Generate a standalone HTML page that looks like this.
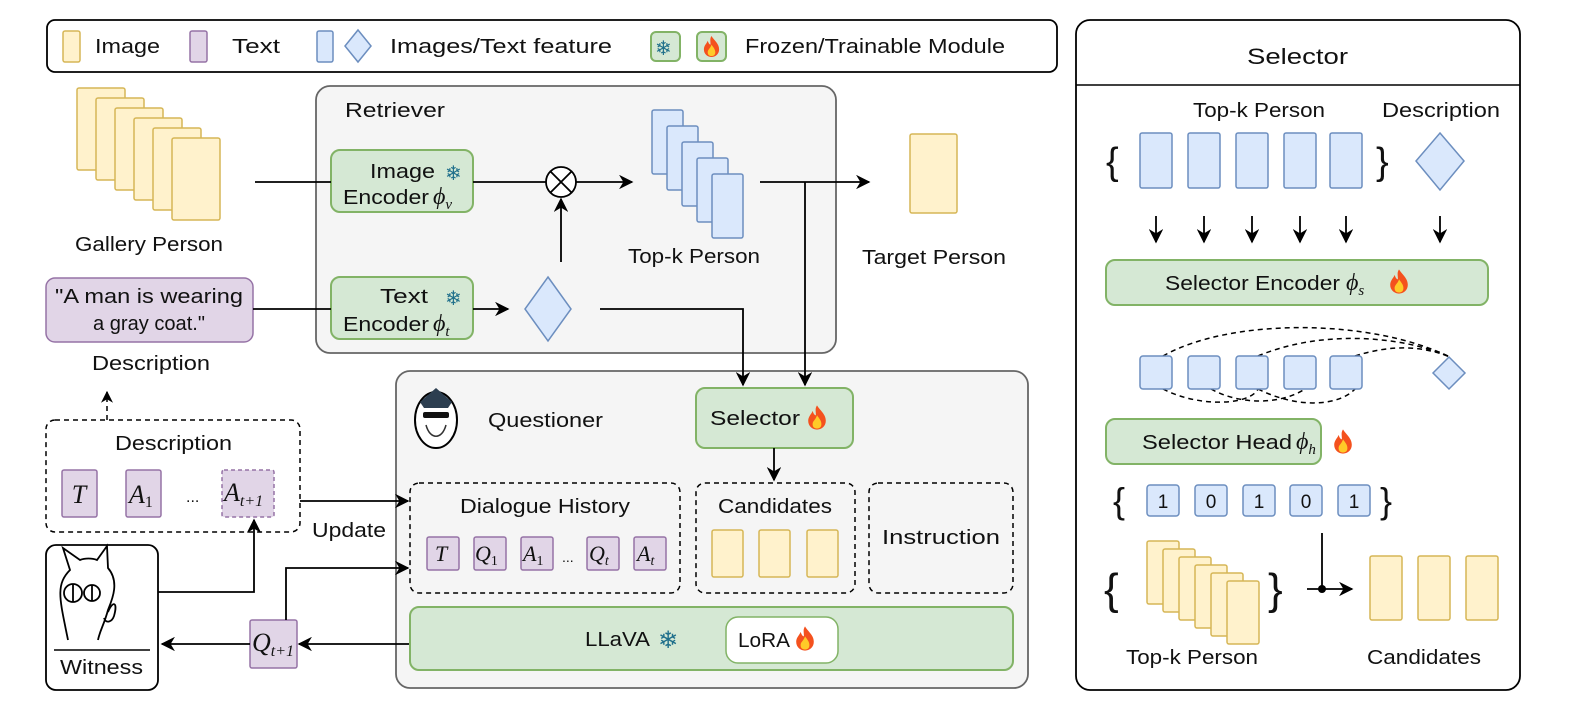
<!DOCTYPE html>
<html><head><meta charset="utf-8"><style>
html,body{margin:0;padding:0;background:#fff}
svg{display:block}
text{font-family:"Liberation Sans",sans-serif;fill:#111}
.m{font-family:"Liberation Serif",serif;font-style:italic}
.y{fill:#fff2cc;stroke:#d6b656;stroke-width:1.5}
.p{fill:#e1d5e7;stroke:#9673a6;stroke-width:1.5}
.b{fill:#dae8fc;stroke:#6c8ebf;stroke-width:1.5}
.g{fill:#d5e8d4;stroke:#82b366;stroke-width:2}
.l{stroke:#000;stroke-width:1.8;fill:none}
.d{stroke:#000;stroke-width:1.5;fill:none;stroke-dasharray:5 4}
.sn{fill:#1f6f8b;font-family:"DejaVu Sans",sans-serif}
</style></head><body>
<svg width="1578" height="716" viewBox="0 0 1578 716" xmlns="http://www.w3.org/2000/svg" font-size="20">
<defs>
<marker id="a" viewBox="0 0 10 10" refX="9" refY="5" markerWidth="8" markerHeight="8" orient="auto-start-reverse"><path d="M0,0 L10,5 L0,10 L3,5z" fill="#000"/></marker>
<symbol id="f" viewBox="0 0 20 24"><path d="M10,1 C13,6 18,9 18,15 C18,20 14,23 10,23 C6,23 2,20 2,15 C2,11 5,9 6,6 C7,9 8,10 9,10 C9,6 8,4 10,1z" fill="#f4511e"/><path d="M10,10 C12,13 14,15 14,18 C14,21 12,22 10,22 C8,22 6,21 6,18 C6,15 9,14 10,10z" fill="#ffca28"/></symbol>
</defs>
<!-- legend -->
<rect x="47" y="20" width="1010" height="52" rx="8" fill="#fff" stroke="#000" stroke-width="1.8"/>
<rect class="y" x="63" y="31" width="17" height="31" rx="2"/><text x="95" y="53" textLength="65" lengthAdjust="spacingAndGlyphs">Image</text>
<rect class="p" x="190" y="31" width="17" height="31" rx="2"/><text x="232" y="53" textLength="48" lengthAdjust="spacingAndGlyphs">Text</text>
<rect class="b" x="317" y="31" width="16" height="31" rx="2"/><path class="b" d="M358,30 L371,46 L358,62 L345,46z"/><text x="390" y="53" textLength="222" lengthAdjust="spacingAndGlyphs">Images/Text feature</text>
<rect class="g" x="651" y="32" width="29" height="29" rx="5"/><text class="sn" x="655" y="55" font-size="20">❄</text>
<rect class="g" x="697" y="32" width="29" height="29" rx="5"/><use href="#f" x="702" y="35" width="19" height="23"/>
<text x="745" y="53" textLength="260" lengthAdjust="spacingAndGlyphs">Frozen/Trainable Module</text>

<!-- selector panel -->
<rect x="1076" y="20" width="444" height="670" rx="14" fill="#fff" stroke="#000" stroke-width="1.8"/>
<line x1="1076" y1="85" x2="1520" y2="85" stroke="#000" stroke-width="1.5"/>
<text x="1247" y="64" font-size="22" textLength="101" lengthAdjust="spacingAndGlyphs">Selector</text>
<text x="1193" y="117" textLength="132" lengthAdjust="spacingAndGlyphs">Top-k Person</text>
<text x="1382" y="117" textLength="118" lengthAdjust="spacingAndGlyphs">Description</text>
<text x="1106" y="174" font-size="38" font-family="Liberation Serif">{</text><text x="1376" y="174" font-size="38" font-family="Liberation Serif">}</text>
<rect class="b" x="1140" y="133" width="32" height="55" rx="2"/><rect class="b" x="1188" y="133" width="32" height="55" rx="2"/><rect class="b" x="1236" y="133" width="32" height="55" rx="2"/><rect class="b" x="1284" y="133" width="32" height="55" rx="2"/><rect class="b" x="1330" y="133" width="32" height="55" rx="2"/>
<path class="b" d="M1440,133 L1464,161 L1440,190 L1416,161z"/>
<g class="l" marker-end="url(#a)"><line x1="1156" y1="216" x2="1156" y2="242"/><line x1="1204" y1="216" x2="1204" y2="242"/><line x1="1252" y1="216" x2="1252" y2="242"/><line x1="1300" y1="216" x2="1300" y2="242"/><line x1="1346" y1="216" x2="1346" y2="242"/><line x1="1440" y1="216" x2="1440" y2="242"/></g>
<rect class="g" x="1106" y="260" width="382" height="45" rx="9"/>
<text x="1165" y="290" textLength="175" lengthAdjust="spacingAndGlyphs">Selector Encoder</text>
<text class="m" x="1346" y="290" font-size="24">ϕ<tspan font-size="15" dy="5">s</tspan></text>
<use href="#f" x="1388" y="268" width="22" height="27"/>
<path class="d" d="M1163,356 C1230,318 1370,318 1450,357"/><path class="d" d="M1258,356 C1320,330 1400,335 1450,357"/><path class="d" d="M1355,356 C1390,345 1420,345 1450,357"/>
<path class="d" d="M1163,389 C1200,408 1250,405 1258,389"/><path class="d" d="M1211,389 C1240,405 1280,405 1305,389"/><path class="d" d="M1258,389 C1300,410 1340,405 1355,389"/>
<rect class="b" x="1140" y="356" width="32" height="33" rx="3"/><rect class="b" x="1188" y="356" width="32" height="33" rx="3"/><rect class="b" x="1236" y="356" width="32" height="33" rx="3"/><rect class="b" x="1284" y="356" width="32" height="33" rx="3"/><rect class="b" x="1330" y="356" width="32" height="33" rx="3"/>
<path class="b" d="M1449,357 L1465,373 L1449,389 L1433,373z"/>
<rect class="g" x="1106" y="419" width="215" height="45" rx="9"/>
<text x="1142" y="449" textLength="150" lengthAdjust="spacingAndGlyphs">Selector Head</text>
<text class="m" x="1296" y="449" font-size="24">ϕ<tspan font-size="15" dy="5">h</tspan></text>
<use href="#f" x="1332" y="428" width="22" height="27"/>
<text x="1113" y="513" font-size="36" font-family="Liberation Serif">{</text><text x="1380" y="513" font-size="36" font-family="Liberation Serif">}</text>
<g font-size="19" text-anchor="middle"><rect class="b" x="1147" y="485" width="32" height="31" rx="3"/><text x="1163" y="508">1</text><rect class="b" x="1195" y="485" width="32" height="31" rx="3"/><text x="1211" y="508">0</text><rect class="b" x="1243" y="485" width="32" height="31" rx="3"/><text x="1259" y="508">1</text><rect class="b" x="1290" y="485" width="32" height="31" rx="3"/><text x="1306" y="508">0</text><rect class="b" x="1338" y="485" width="32" height="31" rx="3"/><text x="1354" y="508">1</text></g>
<text x="1104" y="604" font-size="44" font-family="Liberation Serif">{</text><text x="1268" y="604" font-size="44" font-family="Liberation Serif">}</text>
<rect class="y" x="1147" y="541" width="32" height="63" rx="2"/><rect class="y" x="1163" y="549" width="32" height="63" rx="2"/><rect class="y" x="1179" y="557" width="32" height="63" rx="2"/><rect class="y" x="1195" y="565" width="32" height="63" rx="2"/><rect class="y" x="1211" y="573" width="32" height="63" rx="2"/><rect class="y" x="1227" y="581" width="32" height="63" rx="2"/>
<line class="l" x1="1322" y1="533" x2="1322" y2="589"/><line class="l" x1="1307" y1="589" x2="1352" y2="589" marker-end="url(#a)"/><circle cx="1322" cy="589" r="4" fill="#000"/>
<rect class="y" x="1370" y="556" width="32" height="64" rx="2"/><rect class="y" x="1418" y="556" width="32" height="64" rx="2"/><rect class="y" x="1466" y="556" width="32" height="64" rx="2"/>
<text x="1126" y="664" textLength="132" lengthAdjust="spacingAndGlyphs">Top-k Person</text><text x="1367" y="664" textLength="114" lengthAdjust="spacingAndGlyphs">Candidates</text>

<!-- gallery -->
<rect class="y" x="77" y="88" width="48" height="82" rx="2"/><rect class="y" x="96" y="98" width="48" height="82" rx="2"/><rect class="y" x="115" y="108" width="48" height="82" rx="2"/><rect class="y" x="134" y="118" width="48" height="82" rx="2"/><rect class="y" x="153" y="128" width="48" height="82" rx="2"/><rect class="y" x="172" y="138" width="48" height="82" rx="2"/>
<text x="75" y="251" textLength="148" lengthAdjust="spacingAndGlyphs">Gallery Person</text>

<!-- containers first -->
<rect x="316" y="86" width="520" height="267" rx="14" fill="#f5f5f5" stroke="#666" stroke-width="1.8"/>
<rect x="396" y="371" width="632" height="317" rx="14" fill="#f5f5f5" stroke="#666" stroke-width="1.8"/>

<!-- retriever -->
<text x="345" y="117" textLength="100" lengthAdjust="spacingAndGlyphs">Retriever</text>
<rect class="g" x="331" y="150" width="142" height="62" rx="9"/>
<text x="370" y="178" textLength="65" lengthAdjust="spacingAndGlyphs">Image</text><text class="sn" x="445" y="180" font-size="20">❄</text>
<text x="343" y="204" textLength="86" lengthAdjust="spacingAndGlyphs">Encoder</text><text class="m" x="433" y="204" font-size="24">ϕ<tspan font-size="15" dy="5">v</tspan></text>
<rect class="g" x="331" y="277" width="142" height="62" rx="9"/>
<text x="380" y="303" textLength="48" lengthAdjust="spacingAndGlyphs">Text</text><text class="sn" x="445" y="305" font-size="20">❄</text>
<text x="343" y="331" textLength="86" lengthAdjust="spacingAndGlyphs">Encoder</text><text class="m" x="433" y="331" font-size="24">ϕ<tspan font-size="15" dy="5">t</tspan></text>
<line class="l" x1="255" y1="182" x2="331" y2="182"/>
<line class="l" x1="473" y1="182" x2="546" y2="182"/>
<circle cx="561" cy="182" r="15" fill="#fff" stroke="#000" stroke-width="1.8"/><path class="l" d="M550,171 L572,193 M572,171 L550,193"/>
<line class="l" x1="576" y1="182" x2="632" y2="182" marker-end="url(#a)"/>
<line class="l" x1="561" y1="262" x2="561" y2="199" marker-end="url(#a)"/>
<line class="l" x1="473" y1="309" x2="508" y2="309" marker-end="url(#a)"/>
<path class="b" d="M548,277 L571,309 L548,341 L525,309z"/>
<rect class="b" x="652" y="110" width="31" height="64" rx="2"/><rect class="b" x="667" y="126" width="31" height="64" rx="2"/><rect class="b" x="682" y="142" width="31" height="64" rx="2"/><rect class="b" x="697" y="158" width="31" height="64" rx="2"/><rect class="b" x="712" y="174" width="31" height="64" rx="2"/>
<text x="628" y="263" textLength="132" lengthAdjust="spacingAndGlyphs">Top-k Person</text>
<line class="l" x1="760" y1="182" x2="869" y2="182" marker-end="url(#a)"/>
<rect class="y" x="910" y="134" width="47" height="79" rx="2"/>
<text x="862" y="264" textLength="144" lengthAdjust="spacingAndGlyphs">Target Person</text>
<path class="l" d="M805,182 L805,385" marker-end="url(#a)"/>
<path class="l" d="M600,309 L743,309 L743,385" marker-end="url(#a)"/>

<!-- description -->
<rect class="p" x="46" y="278" width="207" height="64" rx="9"/>
<text x="55" y="303" textLength="188" lengthAdjust="spacingAndGlyphs">"A man is wearing</text><text x="93" y="330" textLength="112" lengthAdjust="spacingAndGlyphs">a gray coat."</text>
<line class="l" x1="253" y1="309" x2="331" y2="309"/>
<text x="92" y="370" textLength="118" lengthAdjust="spacingAndGlyphs">Description</text>
<line class="d" x1="107" y1="420" x2="107" y2="392" marker-end="url(#a)"/>
<rect class="d" x="46" y="420" width="254" height="112" rx="9"/>
<text x="115" y="450" textLength="117" lengthAdjust="spacingAndGlyphs">Description</text>
<rect class="p" x="62" y="470" width="35" height="47" rx="2"/><text class="m" x="79" y="503" font-size="26" text-anchor="middle">T</text>
<rect class="p" x="126" y="470" width="35" height="47" rx="2"/><text class="m" x="129" y="503" font-size="26">A<tspan font-size="16" font-style="normal" dy="4">1</tspan></text>
<text x="186" y="502" font-size="16">...</text>
<rect class="p" x="222" y="470" width="52" height="47" rx="2" stroke-dasharray="4 3"/><text class="m" x="224" y="501" font-size="26">A<tspan font-size="16" dy="5">t+1</tspan></text>
<line class="l" x1="300" y1="501" x2="408" y2="501" marker-end="url(#a)"/>
<text x="312" y="537" textLength="74" lengthAdjust="spacingAndGlyphs">Update</text>

<!-- witness -->
<rect x="46" y="545" width="112" height="145" rx="10" fill="#fff" stroke="#000" stroke-width="1.8"/>
<g class="l" stroke-width="1.3"><path d="M68,640 C60,600 55,585 70,570 L63,548 L80,560 C85,558 92,558 97,560 L107,546 L108,568 C120,582 112,600 108,610 C104,625 100,630 98,640"/><circle cx="73" cy="593" r="9"/><circle cx="92" cy="593" r="8"/><line x1="73" y1="584" x2="73" y2="602"/><line x1="92" y1="585" x2="92" y2="601"/><path d="M108,612 C113,600 118,602 114,616 C112,622 106,624 104,618"/></g>
<line x1="54" y1="650" x2="150" y2="650" stroke="#000" stroke-width="1.5"/>
<text x="60" y="674" textLength="83" lengthAdjust="spacingAndGlyphs">Witness</text>
<path class="l" d="M158,592 L254,592 L254,520" marker-end="url(#a)"/>
<rect class="p" x="250" y="620" width="47" height="48" rx="2"/><text class="m" x="252" y="651" font-size="26">Q<tspan font-size="16" dy="5">t+1</tspan></text>
<line class="l" x1="410" y1="644" x2="299" y2="644" marker-end="url(#a)"/>
<line class="l" x1="250" y1="644" x2="162" y2="644" marker-end="url(#a)"/>
<path class="l" d="M286,620 L286,568 L408,568" marker-end="url(#a)"/>

<!-- questioner -->
<ellipse cx="436" cy="420" rx="21" ry="28" fill="#fff" stroke="#000" stroke-width="2"/>
<path d="M420,402 L436,388 L452,402 L448,408 L424,408z" fill="#2c3e50"/><rect x="423" y="412" width="26" height="6" rx="2" fill="#111"/>
<path d="M426,425 C430,440 442,440 446,425" fill="none" stroke="#333" stroke-width="1.5"/>
<text x="488" y="427" textLength="115" lengthAdjust="spacingAndGlyphs">Questioner</text>
<rect class="g" x="696" y="388" width="157" height="60" rx="9"/>
<text x="710" y="425" textLength="90" lengthAdjust="spacingAndGlyphs">Selector</text><use href="#f" x="806" y="404" width="22" height="27"/>
<line class="l" x1="774" y1="448" x2="774" y2="480" marker-end="url(#a)"/>
<rect class="d" x="410" y="483" width="270" height="110" rx="9"/>
<text x="460" y="513" textLength="170" lengthAdjust="spacingAndGlyphs">Dialogue History</text>
<g font-size="22"><rect class="p" x="427" y="537" width="32" height="33" rx="2"/><text class="m" x="435" y="561">T</text>
<rect class="p" x="474" y="537" width="32" height="33" rx="2"/><text class="m" x="475" y="561">Q<tspan font-size="14" font-style="normal" dy="4">1</tspan></text>
<rect class="p" x="521" y="537" width="32" height="33" rx="2"/><text class="m" x="523" y="561">A<tspan font-size="14" font-style="normal" dy="4">1</tspan></text>
<text x="562" y="562" font-size="14">...</text>
<rect class="p" x="587" y="537" width="32" height="33" rx="2"/><text class="m" x="589" y="561">Q<tspan font-size="14" dy="4">t</tspan></text>
<rect class="p" x="634" y="537" width="32" height="33" rx="2"/><text class="m" x="637" y="561">A<tspan font-size="14" dy="4">t</tspan></text></g>
<rect class="d" x="696" y="483" width="159" height="110" rx="9"/>
<text x="718" y="513" textLength="114" lengthAdjust="spacingAndGlyphs">Candidates</text>
<rect class="y" x="712" y="530" width="31" height="47" rx="2"/><rect class="y" x="759" y="530" width="31" height="47" rx="2"/><rect class="y" x="807" y="530" width="31" height="47" rx="2"/>
<rect class="d" x="869" y="483" width="144" height="110" rx="9"/>
<text x="882" y="544" textLength="118" lengthAdjust="spacingAndGlyphs">Instruction</text>
<rect class="g" x="410" y="607" width="603" height="63" rx="9"/>
<text x="585" y="646" textLength="65" lengthAdjust="spacingAndGlyphs">LLaVA</text><text class="sn" x="658" y="648" font-size="24">❄</text>
<rect x="726" y="617" width="112" height="46" rx="12" fill="#fff" stroke="#82b366" stroke-width="1.5"/>
<text x="738" y="647" textLength="52" lengthAdjust="spacingAndGlyphs">LoRA</text><use href="#f" x="794" y="625" width="22" height="27"/>
</svg>
</body></html>
